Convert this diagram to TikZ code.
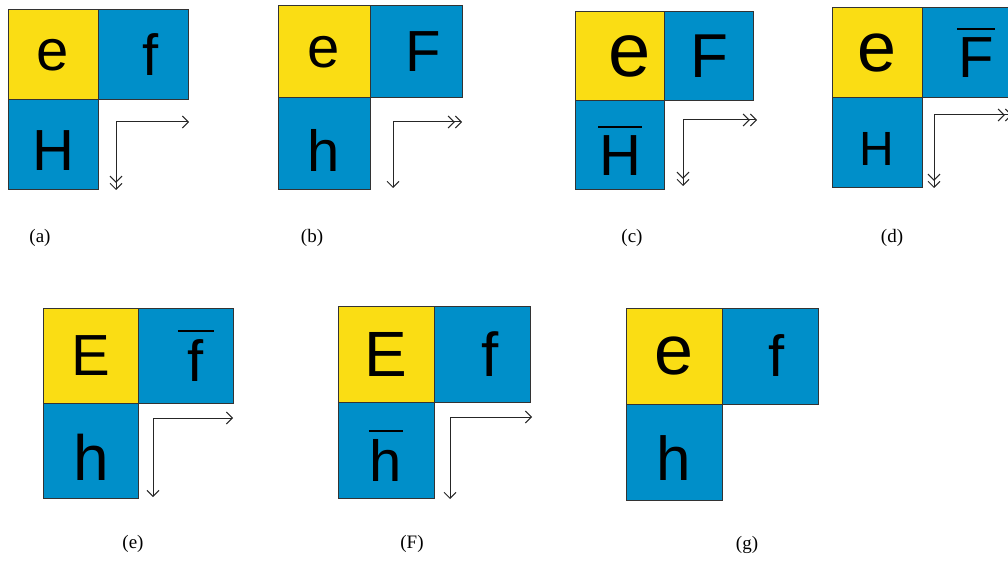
\documentclass[tikz,border=0pt]{standalone}
\usepackage{fontspec}
\setmainfont{Liberation Serif}
\newfontfamily\lettfont{Liberation Sans}
\usepackage{xcolor}
\usepackage{tikz}
\usetikzlibrary{arrows.meta, positioning}

\definecolor{cellyellow}{RGB}{250,221,20}
\definecolor{cellblue}{RGB}{0,143,201}
\newcommand{\fsz}[1]{\lettfont\fontsize{#1}{#1}\selectfont}
\newcommand{\barred}[2][1pt]{\leavevmode\vbox{\hrule height 1.6pt\kern 8pt\hbox{\kern#1#2\kern#1}}}
\newcommand{\dn}[1]{\raisebox{-6pt}[\height][\depth]{#1}}

\begin{document}
\begin{tikzpicture}[
    x=1pt, y=-1pt,
    cell/.style={rectangle, draw=black!80, line width=1pt, outer sep=0pt, inner sep=0pt, font=\fsz{58}},
    ycell/.style={cell, fill=cellyellow},
    bcell/.style={cell, fill=cellblue},
    lab/.style={font=\fontsize{19}{19}\selectfont},
    arr/.style={-{Straight Barb[length=6pt,width=12pt]}, line width=1pt, color=black!85},
    darr/.style={-{Straight Barb[length=6pt,width=12pt]Straight Barb[length=6pt,width=12pt]}, line width=1pt, color=black!85}
]
\useasboundingbox (0,0) rectangle (1008,561);
\clip (0,0) rectangle (1008,561);

% (a)
\node[ycell, minimum size=90pt] (a-e) at (53,55) {e};
\node[bcell, minimum size=90pt, right=0pt of a-e] (a-f) {\kern16pt f};
\node[bcell, minimum size=90pt, below=0pt of a-e] (a-h) {\dn{H}};
\coordinate (a-c) at (116,122);
\coordinate (a-r) at (189,122);
\coordinate (a-d) at (116,190);
\draw[arr] (a-c) -- (a-r);
\draw[darr] (a-c) -- (a-d);
\node[lab] (a-lab) at (40,238) {(a)};

% (b)
\node[ycell, minimum size=92pt] (b-e) at (324,52) {e};
\node[bcell, minimum size=92pt, right=0pt of b-e] (b-f) {\kern14pt F};
\node[bcell, minimum size=92pt, below=0pt of b-e] (b-h) {\dn{h}};
\coordinate (b-c) at (393,122);
\coordinate (b-r) at (462,122);
\coordinate (b-d) at (393,188);
\draw[darr] (b-c) -- (b-r);
\draw[arr] (b-c) -- (b-d);
\node[lab] (b-lab) at (312,238) {(b)};

% (c)
\node[ycell, minimum size=89pt] (c-e) at (620,56) {\kern20pt\fsz{76}e};
\node[bcell, minimum size=89pt, right=0pt of c-e] (c-f) {\fsz{62}F};
\node[bcell, minimum size=89pt, below=0pt of c-e] (c-h) {\dn{\barred{H}}};
\coordinate (c-c) at (683,120);
\coordinate (c-r) at (757,120);
\coordinate (c-d) at (683,186);
\draw[darr] (c-c) -- (c-r);
\draw[darr] (c-c) -- (c-d);
\node[lab] (c-lab) at (632,238) {(c)};

% (d)
\node[ycell, minimum size=90pt] (d-e) at (877,53) {\fsz{70}e};
\node[bcell, minimum size=90pt, right=0pt of d-e] (d-f) {\kern18pt\barred{F}};
\node[bcell, minimum size=90pt, below=0pt of d-e] (d-h) {\fsz{48}\dn{H}};
\coordinate (d-c) at (934,115);
\coordinate (d-r) at (1012,115);
\coordinate (d-d) at (934,188);
\draw[darr] (d-c) -- (d-r);
\draw[darr] (d-c) -- (d-d);
\node[lab] (d-lab) at (892,238) {(d)};

% (e)
\node[ycell, minimum size=95pt] (e-e) at (91,356) {E};
\node[bcell, minimum size=95pt, right=0pt of e-e] (e-f) {\kern20pt\barred[10pt]{f}};
\node[bcell, minimum size=95pt, below=0pt of e-e] (e-h) {\fsz{64}\dn{h}};
\coordinate (e-c) at (153,418);
\coordinate (e-r) at (233,418);
\coordinate (e-d) at (153,497);
\draw[arr] (e-c) -- (e-r);
\draw[arr] (e-c) -- (e-d);
\node[lab] (e-lab) at (133,544) {(e)};

% (F)
\node[ycell, minimum size=96pt] (F-e) at (386,354) {\fsz{64}E};
\node[bcell, minimum size=96pt, right=0pt of F-e] (F-f) {\kern16pt\fsz{62}f};
\node[bcell, minimum size=96pt, below=0pt of F-e] (F-h) {\dn{\barred{h}}};
\coordinate (F-c) at (450,417);
\coordinate (F-r) at (532,417);
\coordinate (F-d) at (450,499);
\draw[arr] (F-c) -- (F-r);
\draw[arr] (F-c) -- (F-d);
\node[lab] (F-lab) at (412,544) {(F)};

% (g)
\node[ycell, minimum size=96pt] (g-e) at (674,356) {\fsz{70}e};
\node[bcell, minimum size=96pt, right=0pt of g-e] (g-f) {\kern14pt f};
\node[bcell, minimum size=96pt, below=0pt of g-e] (g-h) {\fsz{62}\dn{h}};
\node[lab] (g-lab) at (747,545) {(g)};

\end{tikzpicture}
\end{document}
